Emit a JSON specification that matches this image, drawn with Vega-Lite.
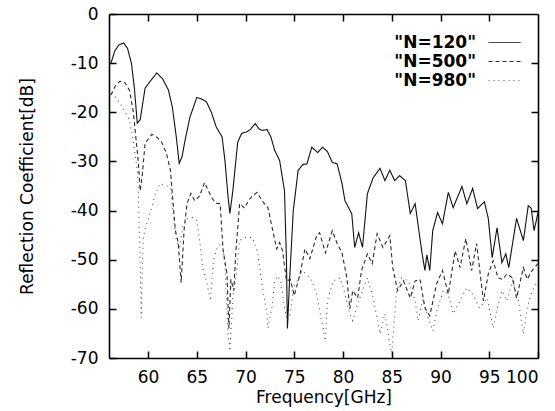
{
  "$schema": "https://vega.github.io/schema/vega-lite/v6.json",
  "width": 429,
  "height": 344,
  "autosize": "none",
  "padding": {"left": 109, "top": 14, "right": 17, "bottom": 53},
  "background": "white",
  "config": {
    "font": "DejaVu Sans",
    "view": {"stroke": null},
    "axis": {
      "domainColor": "#000",
      "domainWidth": 1.6,
      "tickColor": "#000",
      "tickWidth": 1.5,
      "tickSize": -7,
      "labelPadding": 18,
      "labelFont": "DejaVu Sans",
      "labelFontSize": 17,
      "labelColor": "#000",
      "labelExpr": "toString(datum.value)",
      "titleFont": "DejaVu Sans",
      "titleFontSize": 17,
      "titleFontWeight": "normal",
      "titleColor": "#000",
      "grid": false
    },
    "legend": {"labelFont": "DejaVu Sans", "labelFontWeight": "bold", "labelFontSize": 17, "labelColor": "#000"}
  },
  "data": {"values": [
    {"s":"\"N=120\"","f":56.2,"db":-10},{"s":"\"N=120\"","f":56.6,"db":-7.5},{"s":"\"N=120\"","f":57.0,"db":-6.3},{"s":"\"N=120\"","f":57.5,"db":-5.9},{"s":"\"N=120\"","f":57.9,"db":-7},{"s":"\"N=120\"","f":58.3,"db":-10},{"s":"\"N=120\"","f":58.6,"db":-15},{"s":"\"N=120\"","f":58.9,"db":-22.2},{"s":"\"N=120\"","f":59.2,"db":-21.5},{"s":"\"N=120\"","f":59.7,"db":-15.1},{"s":"\"N=120\"","f":60.3,"db":-13.5},{"s":"\"N=120\"","f":60.9,"db":-12},{"s":"\"N=120\"","f":61.5,"db":-13.2},{"s":"\"N=120\"","f":62.1,"db":-15.5},{"s":"\"N=120\"","f":62.5,"db":-19},{"s":"\"N=120\"","f":62.9,"db":-25},{"s":"\"N=120\"","f":63.2,"db":-30.4},{"s":"\"N=120\"","f":63.5,"db":-29},{"s":"\"N=120\"","f":63.8,"db":-25.7},{"s":"\"N=120\"","f":64.3,"db":-21},{"s":"\"N=120\"","f":65.0,"db":-17},{"s":"\"N=120\"","f":65.5,"db":-17.3},{"s":"\"N=120\"","f":66.0,"db":-17.9},{"s":"\"N=120\"","f":66.5,"db":-20},{"s":"\"N=120\"","f":67.0,"db":-23},{"s":"\"N=120\"","f":67.6,"db":-25},{"s":"\"N=120\"","f":67.9,"db":-30},{"s":"\"N=120\"","f":68.2,"db":-37},{"s":"\"N=120\"","f":68.4,"db":-40.6},{"s":"\"N=120\"","f":68.7,"db":-36},{"s":"\"N=120\"","f":69.2,"db":-26.1},{"s":"\"N=120\"","f":69.6,"db":-24.3},{"s":"\"N=120\"","f":70.1,"db":-24},{"s":"\"N=120\"","f":70.5,"db":-23.5},{"s":"\"N=120\"","f":71.0,"db":-22.3},{"s":"\"N=120\"","f":71.4,"db":-23.4},{"s":"\"N=120\"","f":71.7,"db":-23.7},{"s":"\"N=120\"","f":72.2,"db":-23.5},{"s":"\"N=120\"","f":72.6,"db":-25},{"s":"\"N=120\"","f":73.0,"db":-27.8},{"s":"\"N=120\"","f":73.5,"db":-29.8},{"s":"\"N=120\"","f":74.0,"db":-36},{"s":"\"N=120\"","f":74.2,"db":-50},{"s":"\"N=120\"","f":74.3,"db":-64},{"s":"\"N=120\"","f":74.5,"db":-55},{"s":"\"N=120\"","f":74.9,"db":-40},{"s":"\"N=120\"","f":75.4,"db":-31.8},{"s":"\"N=120\"","f":75.9,"db":-30.6},{"s":"\"N=120\"","f":76.3,"db":-30.5},{"s":"\"N=120\"","f":76.8,"db":-27.1},{"s":"\"N=120\"","f":77.4,"db":-28.2},{"s":"\"N=120\"","f":77.9,"db":-27.1},{"s":"\"N=120\"","f":78.4,"db":-28},{"s":"\"N=120\"","f":78.9,"db":-30.2},{"s":"\"N=120\"","f":79.4,"db":-30.5},{"s":"\"N=120\"","f":79.9,"db":-34.5},{"s":"\"N=120\"","f":80.2,"db":-38},{"s":"\"N=120\"","f":80.6,"db":-39.5},{"s":"\"N=120\"","f":80.9,"db":-40.7},{"s":"\"N=120\"","f":81.2,"db":-47.5},{"s":"\"N=120\"","f":81.6,"db":-44.5},{"s":"\"N=120\"","f":82.0,"db":-47.5},{"s":"\"N=120\"","f":82.5,"db":-36.6},{"s":"\"N=120\"","f":82.8,"db":-34.9},{"s":"\"N=120\"","f":83.1,"db":-33.3},{"s":"\"N=120\"","f":83.8,"db":-31.4},{"s":"\"N=120\"","f":84.3,"db":-33.9},{"s":"\"N=120\"","f":84.8,"db":-31.8},{"s":"\"N=120\"","f":85.3,"db":-33.9},{"s":"\"N=120\"","f":85.8,"db":-32.9},{"s":"\"N=120\"","f":86.4,"db":-33.9},{"s":"\"N=120\"","f":86.9,"db":-40.6},{"s":"\"N=120\"","f":87.4,"db":-38.6},{"s":"\"N=120\"","f":88.1,"db":-48.6},{"s":"\"N=120\"","f":88.4,"db":-52.2},{"s":"\"N=120\"","f":88.6,"db":-49},{"s":"\"N=120\"","f":88.9,"db":-52.2},{"s":"\"N=120\"","f":89.2,"db":-44.1},{"s":"\"N=120\"","f":89.7,"db":-40.4},{"s":"\"N=120\"","f":90.2,"db":-42.7},{"s":"\"N=120\"","f":90.8,"db":-36.3},{"s":"\"N=120\"","f":91.3,"db":-39.4},{"s":"\"N=120\"","f":92.2,"db":-35.1},{"s":"\"N=120\"","f":92.7,"db":-38.6},{"s":"\"N=120\"","f":93.3,"db":-35.5},{"s":"\"N=120\"","f":93.8,"db":-39.6},{"s":"\"N=120\"","f":94.5,"db":-38.2},{"s":"\"N=120\"","f":94.9,"db":-41.6},{"s":"\"N=120\"","f":95.3,"db":-49.6},{"s":"\"N=120\"","f":95.8,"db":-43.5},{"s":"\"N=120\"","f":96.3,"db":-50.6},{"s":"\"N=120\"","f":96.7,"db":-48.8},{"s":"\"N=120\"","f":97.0,"db":-51.6},{"s":"\"N=120\"","f":97.8,"db":-41.6},{"s":"\"N=120\"","f":98.5,"db":-46.1},{"s":"\"N=120\"","f":99.0,"db":-39},{"s":"\"N=120\"","f":99.3,"db":-39.5},{"s":"\"N=120\"","f":99.6,"db":-44.1},{"s":"\"N=120\"","f":100,"db":-40.4},
    {"s":"\"N=500\"","f":56.2,"db":-16.5},{"s":"\"N=500\"","f":56.6,"db":-14.8},{"s":"\"N=500\"","f":57.1,"db":-13.7},{"s":"\"N=500\"","f":57.6,"db":-13.9},{"s":"\"N=500\"","f":58.1,"db":-15.5},{"s":"\"N=500\"","f":58.5,"db":-20},{"s":"\"N=500\"","f":59.0,"db":-30},{"s":"\"N=500\"","f":59.2,"db":-36},{"s":"\"N=500\"","f":59.4,"db":-33},{"s":"\"N=500\"","f":59.7,"db":-26.3},{"s":"\"N=500\"","f":60.4,"db":-24.5},{"s":"\"N=500\"","f":61.0,"db":-25.2},{"s":"\"N=500\"","f":61.4,"db":-26.1},{"s":"\"N=500\"","f":61.9,"db":-28.4},{"s":"\"N=500\"","f":62.3,"db":-31.8},{"s":"\"N=500\"","f":62.8,"db":-44},{"s":"\"N=500\"","f":63.1,"db":-46.5},{"s":"\"N=500\"","f":63.4,"db":-54.7},{"s":"\"N=500\"","f":63.7,"db":-44},{"s":"\"N=500\"","f":64.0,"db":-38.6},{"s":"\"N=500\"","f":64.4,"db":-36.5},{"s":"\"N=500\"","f":64.8,"db":-38},{"s":"\"N=500\"","f":65.3,"db":-37},{"s":"\"N=500\"","f":65.8,"db":-34.3},{"s":"\"N=500\"","f":66.2,"db":-36},{"s":"\"N=500\"","f":66.6,"db":-37.6},{"s":"\"N=500\"","f":67.0,"db":-38.5},{"s":"\"N=500\"","f":67.4,"db":-38.6},{"s":"\"N=500\"","f":67.7,"db":-48},{"s":"\"N=500\"","f":68.1,"db":-52.9},{"s":"\"N=500\"","f":68.3,"db":-64},{"s":"\"N=500\"","f":68.5,"db":-54},{"s":"\"N=500\"","f":68.8,"db":-56.3},{"s":"\"N=500\"","f":69.0,"db":-48.6},{"s":"\"N=500\"","f":69.4,"db":-38.6},{"s":"\"N=500\"","f":69.9,"db":-39.5},{"s":"\"N=500\"","f":70.3,"db":-38},{"s":"\"N=500\"","f":70.7,"db":-37},{"s":"\"N=500\"","f":71.2,"db":-36.3},{"s":"\"N=500\"","f":71.7,"db":-38},{"s":"\"N=500\"","f":72.3,"db":-39.4},{"s":"\"N=500\"","f":72.8,"db":-44.1},{"s":"\"N=500\"","f":73.2,"db":-47.8},{"s":"\"N=500\"","f":73.5,"db":-46.5},{"s":"\"N=500\"","f":73.8,"db":-48.2},{"s":"\"N=500\"","f":74.2,"db":-54.3},{"s":"\"N=500\"","f":74.6,"db":-54},{"s":"\"N=500\"","f":75.0,"db":-57.3},{"s":"\"N=500\"","f":75.6,"db":-52.9},{"s":"\"N=500\"","f":76.1,"db":-47.8},{"s":"\"N=500\"","f":76.6,"db":-49.8},{"s":"\"N=500\"","f":77.3,"db":-45.1},{"s":"\"N=500\"","f":77.6,"db":-44.5},{"s":"\"N=500\"","f":78.2,"db":-48.6},{"s":"\"N=500\"","f":78.9,"db":-44.1},{"s":"\"N=500\"","f":79.4,"db":-46.7},{"s":"\"N=500\"","f":79.9,"db":-48.6},{"s":"\"N=500\"","f":80.4,"db":-53.7},{"s":"\"N=500\"","f":80.7,"db":-60},{"s":"\"N=500\"","f":81.0,"db":-56.3},{"s":"\"N=500\"","f":81.5,"db":-57.8},{"s":"\"N=500\"","f":81.9,"db":-52.2},{"s":"\"N=500\"","f":82.5,"db":-48.8},{"s":"\"N=500\"","f":83.0,"db":-50.8},{"s":"\"N=500\"","f":83.5,"db":-44.7},{"s":"\"N=500\"","f":84.1,"db":-47.5},{"s":"\"N=500\"","f":84.8,"db":-45.1},{"s":"\"N=500\"","f":85.1,"db":-51.6},{"s":"\"N=500\"","f":85.6,"db":-56.3},{"s":"\"N=500\"","f":86.2,"db":-54.3},{"s":"\"N=500\"","f":86.9,"db":-57.8},{"s":"\"N=500\"","f":87.4,"db":-54.3},{"s":"\"N=500\"","f":87.9,"db":-54},{"s":"\"N=500\"","f":88.4,"db":-59.8},{"s":"\"N=500\"","f":88.9,"db":-61.4},{"s":"\"N=500\"","f":89.6,"db":-54.9},{"s":"\"N=500\"","f":90.2,"db":-52.2},{"s":"\"N=500\"","f":90.8,"db":-57},{"s":"\"N=500\"","f":91.5,"db":-48.2},{"s":"\"N=500\"","f":92.0,"db":-51.6},{"s":"\"N=500\"","f":92.6,"db":-45.7},{"s":"\"N=500\"","f":93.2,"db":-52.2},{"s":"\"N=500\"","f":93.7,"db":-46.7},{"s":"\"N=500\"","f":94.4,"db":-58.4},{"s":"\"N=500\"","f":94.9,"db":-52.9},{"s":"\"N=500\"","f":95.4,"db":-50.2},{"s":"\"N=500\"","f":95.9,"db":-53.7},{"s":"\"N=500\"","f":96.4,"db":-54},{"s":"\"N=500\"","f":96.8,"db":-52.9},{"s":"\"N=500\"","f":97.4,"db":-53.7},{"s":"\"N=500\"","f":97.8,"db":-57.8},{"s":"\"N=500\"","f":98.5,"db":-51.6},{"s":"\"N=500\"","f":98.9,"db":-54},{"s":"\"N=500\"","f":99.4,"db":-52.2},{"s":"\"N=500\"","f":100,"db":-50.8},
    {"s":"\"N=980\"","f":56.3,"db":-16},{"s":"\"N=980\"","f":56.9,"db":-17.6},{"s":"\"N=980\"","f":57.4,"db":-19},{"s":"\"N=980\"","f":58.1,"db":-21.6},{"s":"\"N=980\"","f":58.5,"db":-26},{"s":"\"N=980\"","f":58.9,"db":-31.8},{"s":"\"N=980\"","f":59.0,"db":-36},{"s":"\"N=980\"","f":59.2,"db":-50.8},{"s":"\"N=980\"","f":59.3,"db":-61.8},{"s":"\"N=980\"","f":59.5,"db":-46},{"s":"\"N=980\"","f":59.7,"db":-43.7},{"s":"\"N=980\"","f":60.0,"db":-42},{"s":"\"N=980\"","f":60.7,"db":-37},{"s":"\"N=980\"","f":61.2,"db":-34.5},{"s":"\"N=980\"","f":61.7,"db":-34.8},{"s":"\"N=980\"","f":62.3,"db":-35.3},{"s":"\"N=980\"","f":62.8,"db":-45},{"s":"\"N=980\"","f":63.2,"db":-48},{"s":"\"N=980\"","f":63.6,"db":-43},{"s":"\"N=980\"","f":64.0,"db":-41.6},{"s":"\"N=980\"","f":64.6,"db":-41.4},{"s":"\"N=980\"","f":65.0,"db":-42},{"s":"\"N=980\"","f":65.3,"db":-46.1},{"s":"\"N=980\"","f":65.6,"db":-51.6},{"s":"\"N=980\"","f":66.0,"db":-54.3},{"s":"\"N=980\"","f":66.4,"db":-58.4},{"s":"\"N=980\"","f":66.7,"db":-50.2},{"s":"\"N=980\"","f":67.1,"db":-47.5},{"s":"\"N=980\"","f":67.6,"db":-46.5},{"s":"\"N=980\"","f":67.9,"db":-51.6},{"s":"\"N=980\"","f":68.2,"db":-65.1},{"s":"\"N=980\"","f":68.4,"db":-68.6},{"s":"\"N=980\"","f":68.7,"db":-57.8},{"s":"\"N=980\"","f":69.1,"db":-52.2},{"s":"\"N=980\"","f":69.4,"db":-46.1},{"s":"\"N=980\"","f":69.9,"db":-45.5},{"s":"\"N=980\"","f":70.7,"db":-45.5},{"s":"\"N=980\"","f":71.2,"db":-48.2},{"s":"\"N=980\"","f":71.5,"db":-52.2},{"s":"\"N=980\"","f":71.8,"db":-56.3},{"s":"\"N=980\"","f":72.2,"db":-61},{"s":"\"N=980\"","f":72.3,"db":-63.9},{"s":"\"N=980\"","f":72.7,"db":-59.8},{"s":"\"N=980\"","f":73.0,"db":-54.3},{"s":"\"N=980\"","f":73.3,"db":-53.3},{"s":"\"N=980\"","f":73.6,"db":-54.3},{"s":"\"N=980\"","f":74.0,"db":-59.8},{"s":"\"N=980\"","f":74.3,"db":-62.4},{"s":"\"N=980\"","f":74.6,"db":-61},{"s":"\"N=980\"","f":74.9,"db":-55.7},{"s":"\"N=980\"","f":75.3,"db":-54.3},{"s":"\"N=980\"","f":75.8,"db":-52.2},{"s":"\"N=980\"","f":76.3,"db":-53},{"s":"\"N=980\"","f":76.8,"db":-54.3},{"s":"\"N=980\"","f":77.3,"db":-57},{"s":"\"N=980\"","f":77.8,"db":-62.4},{"s":"\"N=980\"","f":78.2,"db":-66.5},{"s":"\"N=980\"","f":78.4,"db":-58.4},{"s":"\"N=980\"","f":79.0,"db":-54.3},{"s":"\"N=980\"","f":79.7,"db":-53.7},{"s":"\"N=980\"","f":80.2,"db":-57},{"s":"\"N=980\"","f":80.7,"db":-61},{"s":"\"N=980\"","f":81.0,"db":-62.4},{"s":"\"N=980\"","f":81.5,"db":-59},{"s":"\"N=980\"","f":82.0,"db":-56.3},{"s":"\"N=980\"","f":82.5,"db":-53.7},{"s":"\"N=980\"","f":83.1,"db":-57.8},{"s":"\"N=980\"","f":83.8,"db":-65.1},{"s":"\"N=980\"","f":84.3,"db":-61},{"s":"\"N=980\"","f":84.8,"db":-67.1},{"s":"\"N=980\"","f":85.0,"db":-69},{"s":"\"N=980\"","f":85.5,"db":-56.3},{"s":"\"N=980\"","f":86.0,"db":-53.7},{"s":"\"N=980\"","f":86.7,"db":-54.3},{"s":"\"N=980\"","f":87.4,"db":-58.4},{"s":"\"N=980\"","f":87.7,"db":-62.4},{"s":"\"N=980\"","f":88.2,"db":-58},{"s":"\"N=980\"","f":88.6,"db":-61},{"s":"\"N=980\"","f":89.2,"db":-64.5},{"s":"\"N=980\"","f":89.7,"db":-59.8},{"s":"\"N=980\"","f":90.3,"db":-56.3},{"s":"\"N=980\"","f":90.8,"db":-57},{"s":"\"N=980\"","f":91.3,"db":-61},{"s":"\"N=980\"","f":92.0,"db":-58.4},{"s":"\"N=980\"","f":92.7,"db":-55.7},{"s":"\"N=980\"","f":93.3,"db":-57},{"s":"\"N=980\"","f":94.0,"db":-59.8},{"s":"\"N=980\"","f":94.8,"db":-57.8},{"s":"\"N=980\"","f":95.4,"db":-63.9},{"s":"\"N=980\"","f":95.8,"db":-60},{"s":"\"N=980\"","f":96.3,"db":-56.3},{"s":"\"N=980\"","f":96.8,"db":-58.4},{"s":"\"N=980\"","f":97.4,"db":-54.3},{"s":"\"N=980\"","f":98.0,"db":-58.4},{"s":"\"N=980\"","f":98.5,"db":-65.1},{"s":"\"N=980\"","f":98.9,"db":-59.8},{"s":"\"N=980\"","f":99.4,"db":-56.3},{"s":"\"N=980\"","f":100,"db":-54.3}
  ]},
  "layer": [
    {
      "mark": {"type": "line", "strokeWidth": 1.1, "clip": true},
      "encoding": {
        "x": {"field": "f", "type": "quantitative",
          "scale": {"domain": [56, 100], "nice": false, "zero": false},
          "axis": {"orient": "bottom", "values": [60, 65, 70, 75, 80, 85, 90, 95, 100], "title": "Frequency[GHz]", "titlePadding": 4}},
        "y": {"field": "db", "type": "quantitative",
          "scale": {"domain": [-70, 0], "nice": false, "zero": false},
          "axis": {"orient": "left", "values": [-70, -60, -50, -40, -30, -20, -10, 0], "title": "Reflection Coefficient[dB]", "titlePadding": 34}},
        "color": {"field": "s", "type": "nominal",
          "scale": {"domain": ["\"N=120\"", "\"N=500\"", "\"N=980\""], "range": ["#111111", "#2a2a2a", "#555555"]},
          "legend": {"title": null, "orient": "none", "legendX": 387, "legendY": 20, "padding": 0, "rowPadding": 1, "symbolType": "M-4,0H4", "symbolSize": 64, "symbolStrokeWidth": 1, "labelAlign": "right", "labelOffset": -37}},
        "strokeDash": {"field": "s", "type": "nominal",
          "scale": {"domain": ["\"N=120\"", "\"N=500\"", "\"N=980\""], "range": [[1, 0], [4, 3], [1, 4]]},
          "legend": {"title": null, "orient": "none", "legendX": 387, "legendY": 20, "padding": 0, "rowPadding": 1, "symbolType": "M-4,0H4", "symbolSize": 64, "symbolStrokeWidth": 1, "labelAlign": "right", "labelOffset": -37}}
      }
    },
    {
      "mark": {"type": "line", "opacity": 0},
      "encoding": {
        "x": {"field": "f", "type": "quantitative", "axis": {"orient": "top", "values": [60, 65, 70, 75, 80, 85, 90, 95], "labels": false, "title": null}},
        "y": {"field": "db", "type": "quantitative", "axis": {"orient": "right", "values": [-60, -50, -40, -30, -20, -10], "labels": false, "title": null}},
        "detail": {"field": "s", "type": "nominal"}
      }
    }
  ],
  "resolve": {"axis": {"x": "independent", "y": "independent"}}
}
